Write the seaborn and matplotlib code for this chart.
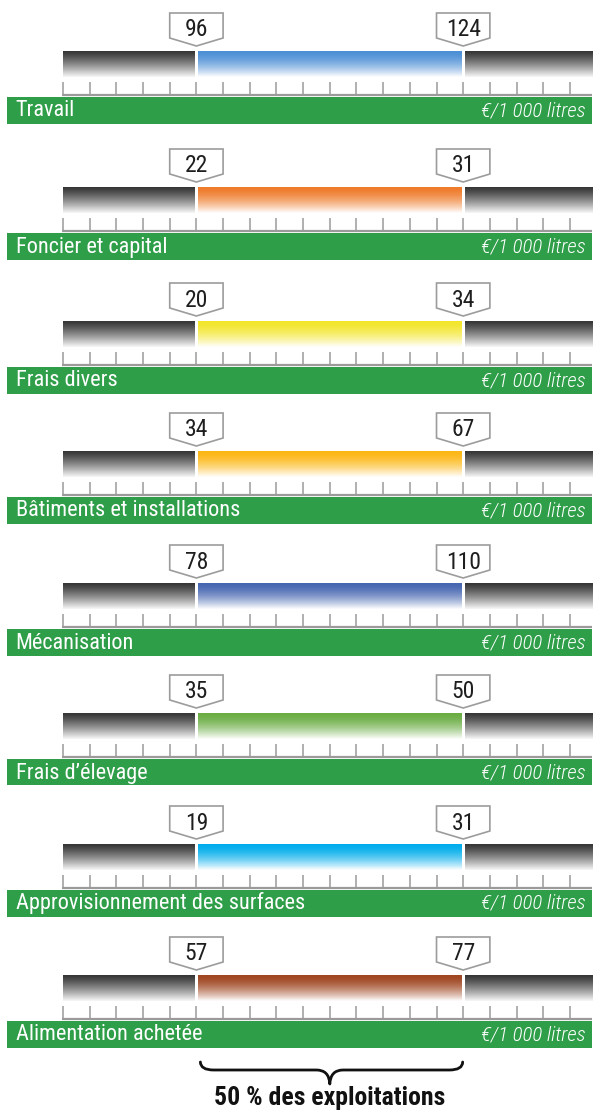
import numpy as np
import matplotlib
matplotlib.use("Agg")
import matplotlib.pyplot as plt
from matplotlib import font_manager
from matplotlib.colors import LinearSegmentedColormap
from matplotlib.path import Path
from matplotlib.patches import PathPatch, Polygon
import seaborn as sns

# ---- data -------------------------------------------------------------
categories = [
    "Travail",
    "Foncier et capital",
    "Frais divers",
    "Bâtiments et installations",
    "Mécanisation",
    "Frais d’élevage",
    "Approvisionnement des surfaces",
    "Alimentation achetée",
]
q1_values = [96, 22, 20, 34, 78, 35, 19, 57]    # 1er quartile
q3_values = [124, 31, 34, 67, 110, 50, 31, 77]  # 3e quartile
unit_label = "€/1 000 litres"
brace_label = "50 % des exploitations"

# ---- style ------------------------------------------------------------
bar_colors = ["#4d8fd6", "#ef7b2b", "#f3e62a", "#fdb714",
              "#4666b1", "#6aad43", "#00adec", "#9f4520"]
band_green = "#2f9e49"
grid_gray = "#9a9a9a"

sns.set_theme(style="white")
available = {f.name for f in font_manager.fontManager.ttflist}
font_main = next((f for f in ["Liberation Sans Narrow", "Roboto Condensed",
                              "Liberation Sans", "DejaVu Sans"] if f in available))
plt.rcParams["font.family"] = [font_main, "DejaVu Sans"]

W, H, DPI = 595, 1110, 100
fig = plt.figure(figsize=(W / DPI, H / DPI), dpi=DPI)
fig.patch.set_facecolor("white")

# layout in pixels: tick 0 sits at x=63, ticks every 26.68 px, quartiles on ticks 5 and 15
TICK0_PX, TICK_PX = 63.0, 26.68
N_TICKS = 20
U_LEFT, U_RIGHT = -TICK0_PX / TICK_PX, (W - TICK0_PX) / TICK_PX
U_BAND_LEFT, U_END = (7 - TICK0_PX) / TICK_PX, (592 - TICK0_PX) / TICK_PX
bar_tops_px = [51, 187, 321, 451, 583, 713, 844, 975]


def gradient_cmap(color, end="#ffffff"):
    return LinearSegmentedColormap.from_list("g", [color, end])


grad_col = (np.linspace(0, 1, 256) ** 1.6).reshape(-1, 1)
grad_dark = (np.linspace(0, 1, 256) ** 1.2).reshape(-1, 1)

for k, (cat, q1, q3, col) in enumerate(zip(categories, q1_values, q3_values, bar_colors)):
    last = k == len(categories) - 1
    y_bottom_local = 136 if last else 75
    y_top_local = -40
    top_px = bar_tops_px[k] + y_top_local
    height_px = y_bottom_local - y_top_local
    ax = fig.add_axes([0, 1 - (top_px + height_px) / H, 1, height_px / H])

    step = (q3 - q1) / 10.0           # data units per tick interval

    def ux(u):
        return q1 + (u - 5) * step

    gap = 0.06 * step
    bar_y0, bar_y1 = 0, 26
    # dark outer segments
    dark = gradient_cmap("#353535", "#f8f8f8")
    ax.imshow(grad_dark, cmap=dark, aspect="auto", interpolation="bicubic",
              extent=[ux(0), q1 - gap, bar_y1, bar_y0], zorder=1)
    ax.imshow(grad_dark, cmap=dark, aspect="auto", interpolation="bicubic",
              extent=[q3 + gap, ux(U_END), bar_y1, bar_y0], zorder=1)
    # interquartile segment
    ax.imshow(grad_col, cmap=gradient_cmap(col), aspect="auto", interpolation="bicubic",
              extent=[q1 + gap, q3 - gap, bar_y1, bar_y0], zorder=1)

    # ticks and baseline
    tick_x = [ux(i) for i in range(N_TICKS)]
    ax.vlines(tick_x, 31, 44, color=grid_gray, lw=1.1, zorder=2)
    ax.hlines(44, ux(0) - 0.02 * step, ux(U_END), color=grid_gray, lw=1.6, zorder=2)

    # green label band
    ax.fill_between([ux(U_BAND_LEFT), ux(U_END)], 46, 72.5, color=band_green,
                    lw=0, zorder=2)
    ax.text(ux(-1.78), 65.5, cat, color="white", fontsize=16, ha="left",
            va="baseline", zorder=3)
    ax.text(ux(19.57), 65, unit_label, color="white", fontsize=15, ha="right",
            va="baseline", style="italic", fontweight="light", zorder=3)

    # value call-outs
    half_w = 1.0 * step
    for v in (q1, q3):
        pts = [(v - half_w, -38), (v + half_w, -38), (v + half_w, -13),
               (v, -5), (v - half_w, -13)]
        ax.add_patch(Polygon(pts, closed=True, facecolor="white",
                             edgecolor="#9c9c9c", lw=1.2, zorder=4))
        ax.text(v, -14.5, f"{v}", color="#1e1e1e", fontsize=17, ha="center",
                va="baseline", zorder=5)

    if last:
        r = 0.5 * step
        mid = (q1 + q3) / 2
        bx0, bx1 = q1 + 0.15 * step, q3 - 0.02 * step
        verts = [(bx0, 87), (bx0, 95), (bx0 + r, 95),
                 (mid - r, 95), (mid - 0.05 * r, 95), (mid, 109),
                 (mid + 0.05 * r, 95), (mid + r, 95),
                 (bx1 - r, 95), (bx1, 95), (bx1, 87)]
        codes = [Path.MOVETO, Path.CURVE3, Path.CURVE3,
                 Path.LINETO, Path.CURVE3, Path.CURVE3,
                 Path.CURVE3, Path.CURVE3,
                 Path.LINETO, Path.CURVE3, Path.CURVE3]
        ax.add_patch(PathPatch(Path(verts, codes), facecolor="none",
                               edgecolor="#111111", lw=2.0, capstyle="round",
                               joinstyle="round", zorder=3))
        ax.text(mid, 130, brace_label, color="#111111", fontsize=18.5,
                fontweight="bold", ha="center", va="baseline", zorder=3)

    ax.set_xlim(ux(U_LEFT), ux(U_RIGHT))
    ax.set_ylim(y_bottom_local, y_top_local)
    ax.set_axis_off()

fig.savefig("out.png", dpi=DPI, facecolor="white")
